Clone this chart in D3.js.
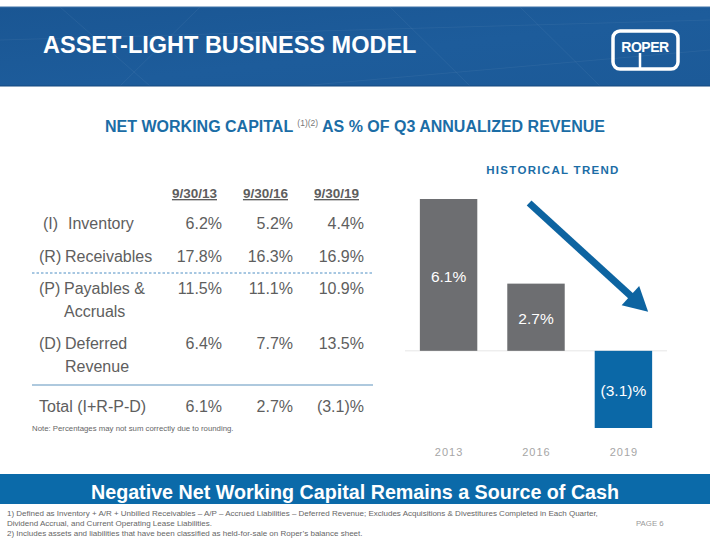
<!DOCTYPE html>
<html>
<head>
<meta charset="utf-8">
<script src="https://cdn.jsdelivr.net/npm/d3@7"></script>
<style>
  body { margin: 0; background: #fff; }
  svg { display: block; font-family: "Liberation Sans", Arial, sans-serif; }
</style>
</head>
<body>
<svg id="slide" width="710" height="549"></svg>
<script>
// table data
var dates = ["9/30/13", "9/30/16", "9/30/19"];
var inventory = [6.2, 5.2, 4.4];
var receivables = [17.8, 16.3, 16.9];
var payables = [11.5, 11.1, 10.9];
var deferred = [6.4, 7.7, 13.5];
var totals = [6.1, 2.7, -3.1];

// chart data
var years = ["2013", "2016", "2019"];
var trend = [6.1, 2.7, -3.1];

var blue = "#0b68a7";
var grey = "#5e5e5e";

var svg = d3.select("#slide");

function pct(v) {
  return v < 0 ? "(" + Math.abs(v).toFixed(1) + ")%" : v.toFixed(1) + "%";
}

// ---- header band ----
var defs = svg.append("defs");
var grad = defs.append("linearGradient").attr("id", "hdr")
  .attr("x1", "0").attr("y1", "0").attr("x2", "1").attr("y2", "1");
grad.append("stop").attr("offset", "0%").attr("stop-color", "#1a5693");
grad.append("stop").attr("offset", "55%").attr("stop-color", "#1d5c9b");
grad.append("stop").attr("offset", "100%").attr("stop-color", "#1c5a98");

svg.append("rect").attr("x", 0).attr("y", 7).attr("width", 710).attr("height", 79)
  .attr("fill", "url(#hdr)");
// faint texture lines
var tex = [[60, 7, 150, 86], [200, 7, 120, 86], [390, 7, 470, 86], [520, 7, 600, 86], [0, 40, 710, 20], [300, 86, 710, 50]];
svg.append("g").selectAll("line").data(tex).enter().append("line")
  .attr("x1", function(d) { return d[0]; }).attr("y1", function(d) { return d[1]; })
  .attr("x2", function(d) { return d[2]; }).attr("y2", function(d) { return d[3]; })
  .attr("stroke", "#ffffff").attr("stroke-opacity", 0.05).attr("stroke-width", 1);
svg.append("line").attr("x1", 0).attr("x2", 710).attr("y1", 7).attr("y2", 7)
  .attr("stroke", "#3f72a8").attr("stroke-width", 1);
svg.append("line").attr("x1", 0).attr("x2", 710).attr("y1", 86).attr("y2", 86)
  .attr("stroke", "#15497f").attr("stroke-width", 1);

svg.append("text").attr("x", 43).attr("y", 53)
  .attr("fill", "#fff").attr("font-size", 23.5).attr("font-weight", "bold")
  .text("ASSET-LIGHT BUSINESS MODEL");

// logo
var logo = svg.append("g");
logo.append("rect").attr("x", 613).attr("y", 31).attr("width", 65).attr("height", 38)
  .attr("rx", 7).attr("fill", "none").attr("stroke", "#fff").attr("stroke-width", 3.5);
logo.append("text").attr("x", 645).attr("y", 52).attr("text-anchor", "middle")
  .attr("fill", "#fff").attr("font-size", 14).attr("font-weight", "bold")
  .attr("letter-spacing", -0.5).text("ROPER");
logo.append("line").attr("x1", 640).attr("x2", 640).attr("y1", 53).attr("y2", 69)
  .attr("stroke", "#fff").attr("stroke-width", 2.5);

// ---- subtitle ----
var sub = svg.append("text").attr("x", 355).attr("y", 132).attr("text-anchor", "middle")
  .attr("font-size", 16).attr("font-weight", "bold").attr("fill", "#1b6da6");
sub.append("tspan").text("NET WORKING CAPITAL ");
sub.append("tspan").attr("font-size", 8.5).attr("font-weight", "normal").attr("fill", "#777")
  .attr("dy", -6).text("(1)(2)");
sub.append("tspan").attr("dy", 6).text(" AS % OF Q3 ANNUALIZED REVENUE");

// ---- table ----
var col = d3.scalePoint().domain(dates).range([222, 364]);
var table = svg.append("g").attr("fill", grey);

table.selectAll(".hdr").data(dates).enter().append("text")
  .attr("class", "hdr")
  .attr("x", function(d) { return col(d) - 5; }).attr("y", 198)
  .attr("text-anchor", "end").attr("font-size", 13.5).attr("font-weight", "bold")
  .attr("text-decoration", "underline")
  .text(function(d) { return d; });

var rows = [
  { tag: "(I)", tagX: 43, label: ["Inventory"], labelX: 68, y: 229, values: inventory },
  { tag: "(R)", tagX: 39, label: ["Receivables"], labelX: 65, y: 262, values: receivables },
  { tag: "(P)", tagX: 39, label: ["Payables &", "Accruals"], labelX: 64, y: 294, values: payables },
  { tag: "(D)", tagX: 39, label: ["Deferred", "Revenue"], labelX: 65, y: 349, values: deferred },
  { tag: "Total (I+R-P-D)", tagX: 39, label: [], labelX: 0, y: 412, values: totals }
];

var rowG = table.selectAll(".row").data(rows).enter().append("g").attr("class", "row");
rowG.append("text").attr("x", function(d) { return d.tagX; }).attr("y", function(d) { return d.y; })
  .attr("font-size", 16).text(function(d) { return d.tag; });
rowG.each(function(d) {
  var g = d3.select(this);
  d.label.forEach(function(t, i) {
    g.append("text").attr("x", d.labelX).attr("y", d.y + i * 23)
      .attr("font-size", 16).text(t);
  });
  g.selectAll(".val").data(d.values).enter().append("text")
    .attr("class", "val")
    .attr("x", function(v, i) { return col(dates[i]); })
    .attr("y", d.y).attr("text-anchor", "end").attr("font-size", 16)
    .text(pct);
});

svg.append("line").attr("x1", 32).attr("x2", 373).attr("y1", 273).attr("y2", 273)
  .attr("stroke", "#4f8fc4").attr("stroke-width", 1).attr("stroke-dasharray", "2.5,2");
svg.append("line").attr("x1", 32).attr("x2", 373).attr("y1", 385).attr("y2", 385)
  .attr("stroke", "#5f93bd").attr("stroke-width", 1.2);

svg.append("text").attr("x", 32).attr("y", 431).attr("font-size", 7.8).attr("fill", "#666")
  .text("Note: Percentages may not sum correctly due to rounding.");

// ---- historical trend chart ----
svg.append("text").attr("x", 553).attr("y", 174).attr("text-anchor", "middle")
  .attr("font-size", 11.5).attr("font-weight", "bold").attr("letter-spacing", 1.3)
  .attr("fill", "#1b6da6").text("HISTORICAL TREND");

var x = d3.scaleBand().domain(years).range([405, 667]).paddingInner(0.343).paddingOuter(0.17);
var y = d3.scaleLinear().domain(d3.extent(trend)).range([428, 199]);
var barData = years.map(function(k, i) { return { year: k, value: trend[i] }; });

svg.append("line").attr("x1", x.range()[0]).attr("x2", x.range()[1])
  .attr("y1", y(0)).attr("y2", y(0)).attr("stroke", "#e6e6e6").attr("stroke-width", 1);

var bars = svg.append("g");
bars.selectAll("rect").data(barData).enter().append("rect")
  .attr("x", function(d) { return x(d.year); })
  .attr("y", function(d) { return y(Math.max(0, d.value)); })
  .attr("width", x.bandwidth())
  .attr("height", function(d) { return Math.abs(y(d.value) - y(0)); })
  .attr("fill", function(d) { return d.value < 0 ? blue : "#6d6e71"; });

bars.selectAll(".lbl").data(barData).enter().append("text")
  .attr("class", "lbl")
  .attr("x", function(d) { return x(d.year) + x.bandwidth() / 2; })
  .attr("y", function(d) { return (y(d.value) + y(0)) / 2 + 7; })
  .attr("text-anchor", "middle").attr("font-size", 15.5).attr("fill", "#fff")
  .text(function(d) { return pct(d.value); });

svg.append("g").selectAll("text").data(years).enter().append("text")
  .attr("x", function(d) { return x(d) + x.bandwidth() / 2 + 0.5; })
  .attr("y", 456).attr("text-anchor", "middle").attr("font-size", 11)
  .attr("letter-spacing", 1).attr("fill", "#a6a6a6")
  .text(function(d) { return d; });

// trend arrow
var ax1 = x("2016") + x.bandwidth() * 0.38, ay1 = y(trend[0]) + 4;
var ax2 = x("2019") + x.bandwidth() * 0.93, ay2 = y(0) - 39;
var ang = Math.atan2(ay2 - ay1, ax2 - ax1) * 180 / Math.PI;
var len = Math.hypot(ax2 - ax1, ay2 - ay1);
var arrow = svg.append("g").attr("transform", "translate(" + ax1 + "," + ay1 + ") rotate(" + ang + ")");
arrow.append("line").attr("x1", 0).attr("y1", 0).attr("x2", len - 18).attr("y2", 0)
  .attr("stroke", "#0d64a1").attr("stroke-width", 7);
arrow.append("path").attr("d", "M" + (len - 24) + ",-13 L" + len + ",0 L" + (len - 24) + ",13 Z")
  .attr("fill", "#0d64a1");

// ---- bottom band ----
svg.append("rect").attr("x", 0).attr("y", 474).attr("width", 710).attr("height", 30)
  .attr("fill", "#0b6aa9");
svg.append("text").attr("x", 355).attr("y", 499).attr("text-anchor", "middle")
  .attr("font-size", 19.7).attr("font-weight", "bold").attr("fill", "#fff")
  .text("Negative Net Working Capital Remains a Source of Cash");

var notes = [
  "1) Defined as Inventory + A/R + Unbilled Receivables \u2013 A/P \u2013 Accrued Liabilities \u2013 Deferred Revenue; Excludes Acquisitions & Divestitures Completed in Each Quarter,",
  "Dividend Accrual, and Current Operating Lease Liabilities.",
  "2) Includes assets and liabilities that have been classified as held-for-sale on Roper\u2019s balance sheet."
];
svg.append("g").selectAll("text").data(notes).enter().append("text")
  .attr("x", 7).attr("y", function(d, i) { return 516 + i * 10; })
  .attr("font-size", 8).attr("fill", "#666")
  .text(function(d) { return d; });
svg.append("text").attr("x", 636).attr("y", 526).attr("font-size", 7.8).attr("fill", "#999")
  .text("PAGE 6");
</script>
</body>
</html>
